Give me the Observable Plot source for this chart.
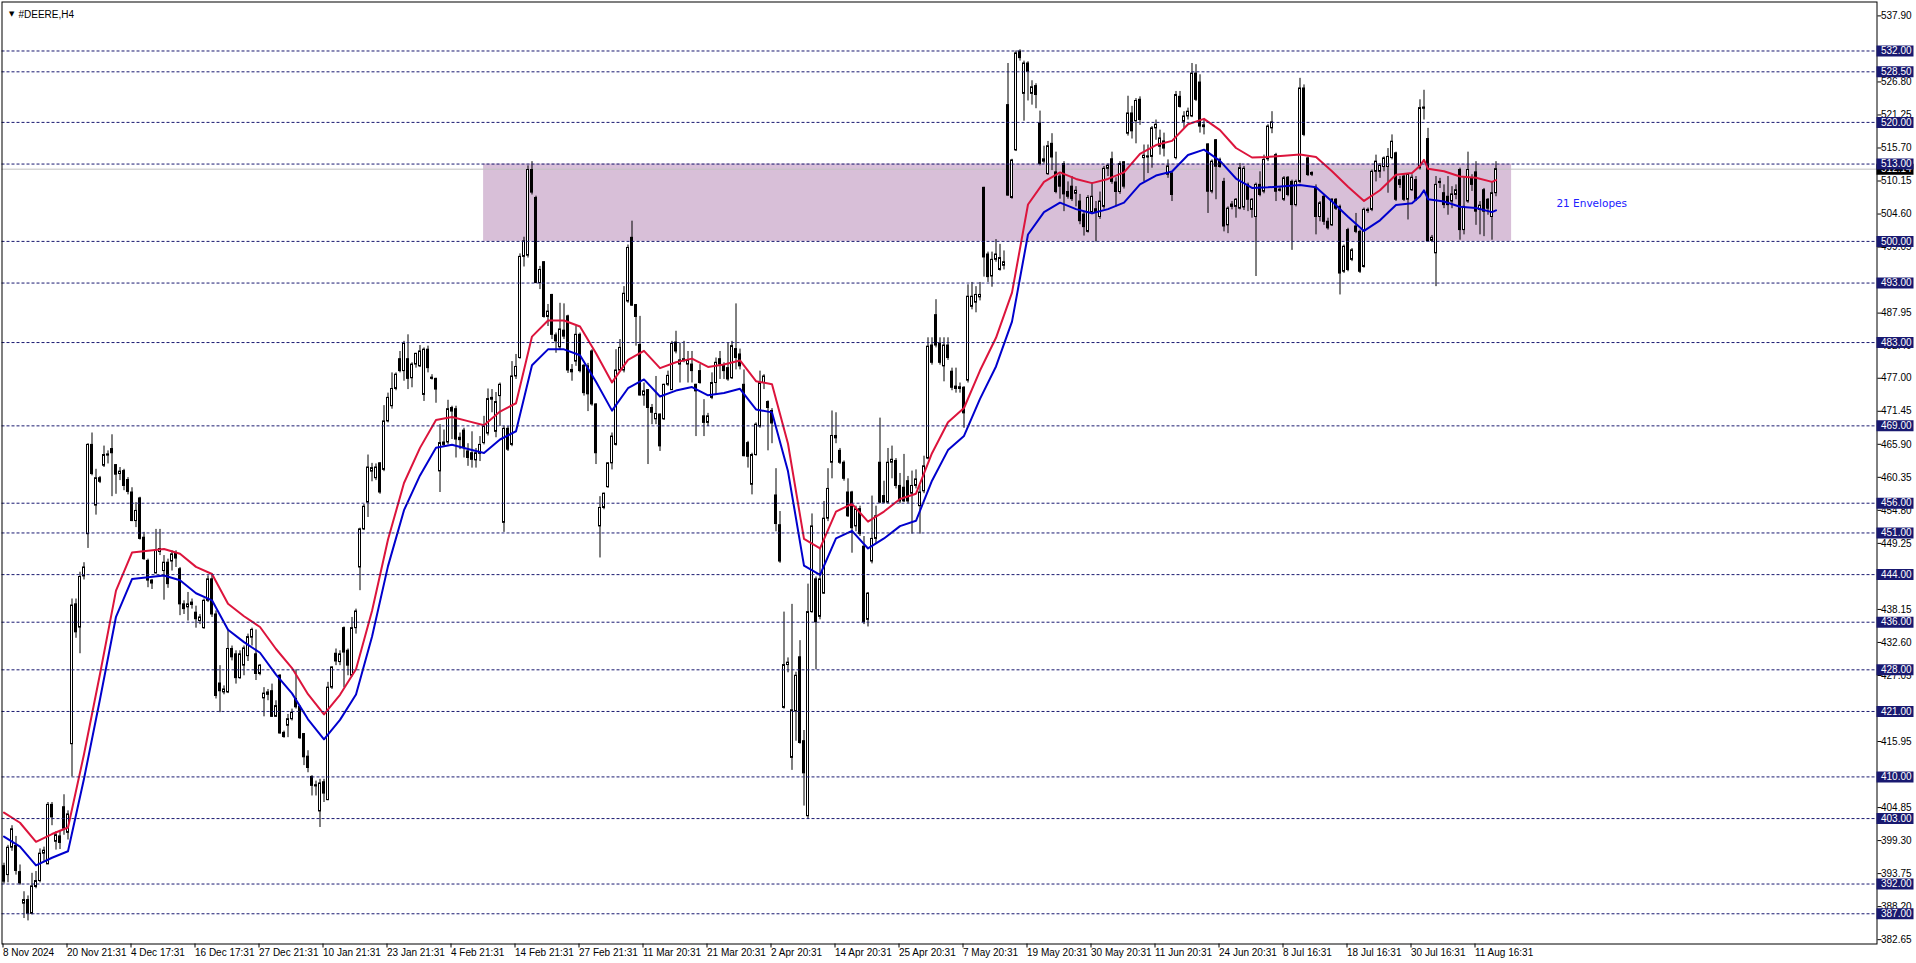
<!DOCTYPE html>
<html>
<head>
<meta charset="utf-8">
<script src="https://cdn.jsdelivr.net/npm/d3@7"></script>
<script src="https://cdn.jsdelivr.net/npm/@observablehq/plot@0.6"></script>
<style>
  html, body { margin: 0; padding: 0; background: #ffffff; overflow: hidden; }
  #chart { width: 1916px; height: 963px; }
</style>
</head>
<body>
<div id="chart"></div>
<script>
// ---------------- DATA ----------------
const symbolTitle = "#DEERE,H4";
const envelopeLabel = "21 Envelopes";

const open = [
395.0,393.5,398.1,398.4,394.0,388.7,389.3,387.0,391.5,392.5,397.1,395.3,405.3,399.1,400.0,404.9,400.6,415.5,439.0,435.1,
443.7,450.8,465.8,455.6,460.2,462.3,464.0,465.1,462.4,460.9,461.4,459.9,457.8,453.0,456.8,450.2,446.3,443.0,444.2,447.8,
444.6,446.0,446.2,447.5,444.9,439.0,438.5,438.9,437.6,436.2,435.0,439.6,443.2,437.3,425.7,424.2,424.2,431.5,430.6,426.6,
428.7,430.3,433.4,430.6,427.3,423.2,424.2,424.4,420.1,427.0,417.4,418.6,419.7,423.1,421.8,417.2,413.4,410.0,408.6,404.2,
409.1,406.1,425.0,430.7,429.3,435.0,431.2,427.0,435.0,445.2,451.6,456.1,461.3,460.2,462.7,461.6,469.75,472.3,475.2,480.2,
478.2,480.2,477.0,479.3,479.0,474.2,481.8,477.1,476.9,461.35,465.8,466.2,472.0,471.8,467.0,468.2,464.7,464.4,463.2,464.3,
466.1,467.7,473.7,468.0,474.0,452.7,468.5,465.8,477.3,480.4,497.4,497.6,512.0,507.3,493.0,496.5,487.3,491.0,484.2,482.2,
485.0,487.4,478.4,479.8,484.3,479.1,479.0,481.5,472.6,452.1,455.2,458.7,462.7,465.8,478.3,478.3,489.9,500.6,489.3,482.6,
474.1,475.0,472.0,470.1,470.9,470.1,475.9,475.0,483.0,479.3,480.0,479.3,479.3,475.9,478.2,470.6,469.5,473.7,476.2,480.2,
479.1,478.7,477.0,481.9,481.0,475.9,466.1,459.1,464.1,468.9,476.2,473.0,471.5,457.3,452.3,421.6,428.8,413.2,421.0,430.1,
416.0,403.4,437.7,443.2,436.9,440.8,453.4,462.8,467.3,464.8,462.8,457.8,457.8,452.1,455.0,448.7,436.4,446.2,450.0,462.8,
457.2,456.1,462.8,463.1,458.9,458.6,459.7,457.6,458.9,455.5,458.0,463.5,482.5,487.6,482.8,479.0,482.5,478.1,475.6,475.2,
475.4,476.6,489.0,489.7,490.6,509.0,497.8,494.1,496.9,495.2,495.9,522.9,507.3,515.3,531.9,524.8,529.9,524.8,526.1,519.8,
513.4,511.3,516.4,511.6,510.9,513.0,508.3,509.2,508.0,506.7,504.5,501.6,504.9,505.4,504.1,505.8,512.2,513.8,509.9,508.3,
513.3,518.1,521.5,520.2,523.8,514.0,514.1,514.2,519.0,515.9,516.8,511.2,511.4,514.0,524.3,520.1,521.0,521.0,528.2,526.7,
519.5,516.3,508.35,517.0,513.7,510.0,502.7,506.2,505.8,505.5,505.7,509.5,505.3,504.1,509.5,508.35,513.8,519.0,514.5,508.5,
507.0,510.7,510.0,506.1,510.0,525.7,513.95,511.5,508.9,504.1,507.5,503.3,502.7,507.0,505.8,494.9,501.9,496.9,502.5,501.6,
495.7,505.1,505.3,511.7,511.7,512.5,512.5,514.0,514.8,510.3,510.9,507.0,508.6,510.3,512.3,522.5,517.2,500.1,498.0,509.8,
508.1,507.5,506.7,507.8,512.0,501.9,506.7,510.6,511.6,505.3,508.6,507.0,504.1,508.1
];
const high = [
395.5,398.5,401.8,400.0,395.2,390.7,390.0,393.8,394.1,397.9,398.2,405.7,405.7,400.8,401.0,407.0,404.3,439.9,439.9,444.4,
446.0,466.0,467.8,461.7,460.5,465.6,464.8,467.5,462.5,462.0,461.7,460.3,458.6,456.1,457.0,451.1,446.6,443.2,451.6,451.6,
447.2,446.6,448.0,448.0,445.2,439.6,441.0,439.9,438.7,437.3,439.9,443.8,444.1,437.9,428.7,425.3,434.8,432.0,431.2,431.2,
432.0,434.0,435.0,434.7,428.9,425.0,424.7,425.6,422.8,427.2,417.7,420.5,421.4,428.0,421.8,417.3,414.4,410.2,409.3,409.6,
409.6,425.9,428.5,431.5,431.2,435.2,431.5,436.8,438.2,451.8,455.8,464.1,462.7,462.6,462.8,472.4,474.5,477.9,477.9,481.5,
483.2,484.3,479.6,481.2,482.5,482.1,482.4,477.6,477.0,469.2,468.3,473.3,472.3,472.3,467.8,468.6,466.0,468.0,465.2,467.2,
470.6,475.2,475.1,474.6,476.2,469.0,468.9,479.8,481.0,497.9,500.7,512.7,513.4,507.6,495.8,496.6,489.4,491.1,484.6,489.6,
489.5,487.6,479.3,485.7,484.6,479.3,479.5,481.8,472.7,457.1,457.7,462.8,467.8,481.8,483.5,492.4,499.4,503.4,489.4,487.4,
476.2,475.1,472.6,477.3,471.0,476.0,478.2,483.2,484.9,482.9,483.2,481.5,481.5,476.0,479.3,473.4,471.1,477.9,480.4,481.5,
479.6,482.9,483.2,489.5,481.9,478.4,466.4,464.4,469.5,478.2,477.6,473.2,471.9,461.8,454.6,437.7,430.0,439.0,427.6,432.9,
417.8,442.4,454.2,443.6,448.3,456.3,461.8,471.5,471.2,465.2,463.1,460.1,458.0,455.5,455.5,450.4,441.0,457.2,455.5,470.3,
459.7,465.2,465.6,463.5,461.0,464.2,460.5,461.4,461.6,458.9,463.9,483.8,483.8,490.2,483.8,483.8,483.8,478.7,478.7,476.2,
475.6,492.7,493.1,492.4,493.1,509.1,498.2,498.2,500.3,499.5,498.4,529.9,513.8,532.0,532.2,530.3,530.2,527.0,526.5,521.9,
516.0,516.8,518.1,515.0,511.3,513.4,510.0,510.9,509.2,507.9,505.0,507.7,509.9,506.7,508.3,512.6,513.0,515.0,510.7,513.4,
513.4,524.4,522.7,524.0,524.3,516.2,516.2,519.3,520.4,518.7,518.2,513.7,511.7,525.2,525.2,521.8,522.4,529.9,529.7,528.0,
520.4,516.4,513.7,517.1,514.0,510.6,505.8,506.7,507.2,513.1,512.6,509.8,507.2,509.8,511.7,514.5,519.6,521.8,514.8,509.2,
510.9,510.9,510.3,510.3,527.4,526.3,514.2,511.7,509.5,506.7,507.8,503.9,507.2,507.2,506.1,499.4,502.2,498.8,504.7,501.9,
505.6,505.6,512.0,514.5,513.1,514.2,515.6,517.9,515.0,510.9,511.4,511.4,511.2,510.9,523.8,525.4,519.0,501.0,510.9,510.6,
509.5,510.9,509.2,509.5,512.3,510.9,515.0,511.2,513.4,506.7,508.9,507.2,510.0,513.4
];
const low = [
392.0,392.2,397.5,393.5,391.8,386.2,385.8,386.8,391.2,392.2,395.8,395.3,401.8,397.7,397.8,400.2,399.4,410.0,433.3,430.7,
443.1,448.4,460.6,454.0,459.3,462.0,462.6,457.1,457.5,459.8,458.1,457.4,452.9,451.9,449.8,446.4,441.8,441.5,444.1,447.2,
439.7,441.7,444.6,445.2,437.1,437.3,436.2,438.2,435.0,435.6,434.8,439.3,436.8,423.1,420.8,423.8,424.0,429.5,425.6,426.4,
427.0,429.4,432.0,426.2,427.0,420.1,422.8,420.0,420.0,417.2,416.5,416.6,419.4,421.4,416.3,411.9,410.7,406.8,406.8,401.5,
405.7,406.0,424.7,428.7,428.7,425.0,427.0,426.8,434.0,441.3,451.4,453.6,459.6,459.8,457.5,461.3,469.5,471.8,474.9,477.9,
476.5,475.1,475.4,478.7,478.8,473.1,477.9,476.7,472.8,457.8,465.5,465.8,466.7,463.6,465.0,463.6,462.2,461.9,461.9,463.0,
465.8,467.3,471.2,467.0,468.9,451.1,464.7,465.5,476.8,480.2,495.7,497.2,507.8,492.9,491.9,487.1,485.7,483.5,481.2,481.8,
483.5,477.8,476.5,479.0,477.9,474.0,471.4,472.3,462.5,446.8,454.9,458.5,461.6,465.6,478.1,477.9,489.6,489.1,482.4,474.0,
472.3,462.5,469.2,469.2,464.7,469.9,475.6,475.0,481.1,476.2,479.6,476.2,476.2,467.2,476.0,467.2,468.9,473.4,474.2,476.8,
476.8,476.5,476.8,478.4,478.4,463.8,461.9,457.4,463.9,468.6,475.1,464.8,466.0,451.2,445.9,421.4,427.5,411.1,416.0,415.5,
405.1,403.0,437.5,428.0,436.4,440.7,452.9,460.1,466.0,462.5,459.7,453.6,447.6,451.2,450.4,435.6,435.2,445.8,449.1,455.9,
455.9,455.9,460.1,458.4,455.9,456.1,455.9,450.8,458.4,450.8,457.6,463.3,479.2,482.1,479.2,476.4,480.0,474.9,474.5,474.5,
468.6,476.2,488.5,488.0,490.0,494.0,493.1,492.3,496.5,495.0,495.2,507.6,507.1,515.1,530.3,520.2,523.6,522.9,522.3,512.7,
513.0,511.1,511.9,508.0,507.1,505.0,507.1,506.7,505.8,502.8,500.9,501.4,504.5,499.9,503.7,505.4,510.9,509.6,505.8,507.9,
508.8,517.7,517.2,516.4,519.5,510.0,511.4,512.3,517.0,514.5,514.2,510.6,506.7,513.7,522.4,519.0,520.4,520.8,523.5,518.2,
517.9,504.7,508.0,507.0,512.3,501.6,501.3,505.3,503.9,505.3,505.2,505.0,503.9,494.1,507.5,508.0,513.4,518.1,506.7,508.3,
506.7,507.5,498.5,505.8,509.7,517.6,510.9,510.9,501.1,503.3,502.7,501.9,502.5,505.2,491.0,494.6,494.9,496.6,501.3,494.6,
495.5,504.7,505.0,510.0,510.6,511.7,508.1,513.7,506.7,508.9,506.7,503.6,508.4,506.7,512.0,520.4,499.9,499.8,492.4,508.9,
505.5,504.4,505.5,507.0,500.2,501.1,506.4,508.4,502.7,501.1,500.8,504.4,500.2,507.5
];
const close = [
392.4,398.1,401.2,394.2,392.1,389.3,387.0,391.6,392.5,397.1,397.6,405.3,403.2,400.2,398.9,401.3,403.7,438.8,434.3,443.6,
445.2,465.8,460.9,460.2,459.6,464.1,464.2,464.4,460.8,461.3,458.9,457.9,453.0,454.7,450.0,446.6,443.0,442.5,448.0,448.3,
446.0,442.4,447.4,446.7,439.0,438.2,439.0,439.3,436.5,436.8,439.6,443.2,437.3,423.6,424.4,424.7,431.5,430.1,426.6,430.6,
431.6,433.5,434.7,427.3,428.7,424.0,423.8,420.1,421.9,417.3,416.7,419.7,420.8,421.7,416.5,413.3,411.5,408.5,408.4,408.9,
407.2,425.0,428.4,429.4,430.6,430.9,428.7,435.0,437.8,451.6,455.4,462.0,461.9,462.0,457.8,469.75,473.7,475.2,477.6,478.2,
482.8,476.9,479.3,481.1,481.5,481.8,478.7,476.9,475.1,466.1,466.2,471.8,471.4,466.7,466.6,465.3,463.6,463.3,464.4,465.8,
468.9,473.5,473.4,473.0,475.9,468.5,465.0,477.3,478.9,497.4,500.0,512.0,508.2,493.0,495.2,487.3,488.2,484.3,483.2,485.2,
484.0,478.3,478.0,484.3,478.2,474.5,474.3,472.6,464.4,455.2,457.6,462.7,467.2,478.3,482.1,491.2,498.9,489.2,487.3,474.1,
474.8,472.0,471.2,471.0,465.55,475.9,477.4,482.8,481.5,480.0,480.2,480.0,478.2,474.8,476.2,469.5,470.6,476.2,479.6,479.3,
478.2,476.8,482.4,480.4,479.0,463.9,463.8,464.1,469.2,476.2,477.3,472.0,469.4,452.5,446.2,428.8,429.2,421.2,427.0,415.7,
410.6,437.7,452.1,436.0,443.2,453.4,458.4,467.3,466.9,462.8,460.1,453.8,451.8,455.0,450.8,436.0,440.8,450.0,453.8,456.1,
456.1,462.8,463.3,458.9,456.3,456.3,456.3,458.9,460.0,457.8,462.2,482.3,479.6,482.5,479.6,482.5,480.4,475.4,475.2,475.5,
471.1,490.7,490.7,491.0,491.0,497.3,494.0,496.9,497.8,497.2,496.5,507.7,513.6,531.6,530.8,529.9,528.5,525.9,524.6,513.0,
513.8,516.0,514.1,508.3,509.2,507.9,507.5,507.1,508.5,503.4,502.4,507.3,507.5,504.8,506.7,512.2,512.7,510.0,508.3,513.0,
509.2,521.5,518.5,523.6,520.4,514.4,514.3,519.0,519.6,517.3,515.6,512.6,507.8,524.6,522.6,521.0,521.8,528.2,523.8,519.3,
519.2,508.35,513.4,512.55,512.5,502.5,505.5,505.8,507.0,512.3,512.2,507.0,507.0,509.5,507.8,513.7,519.3,520.0,508.35,508.7,
510.6,507.8,506.1,510.0,525.7,517.9,511.15,511.2,504.1,506.4,503.3,502.2,507.0,505.5,494.6,499.1,495.2,498.5,501.6,494.9,
505.3,505.3,511.7,513.4,512.7,513.95,514.2,516.75,507.0,509.5,507.0,511.3,510.7,507.0,522.4,522.3,500.0,500.6,509.5,510.0,
506.1,506.1,507.9,508.6,501.9,505.8,512.0,509.5,505.0,506.0,505.0,505.5,508.1,512.14
];

// Envelopes(21): upper (red) band read at these bars; deviation 0.5 %
const envBar = [0,4,8,12,16,20,24,28,32,36,40,44,48,52,56,60,64,68,72,76,80,84,88,92,96,100,104,108,112,116,120,124,128,132,136,140,144,148,152,156,160,164,168,172,176,180,184,188,192,196,200,204,208,212,216,220,224,228,232,236,240,244,248,252,256,260,264,268,272,276,280,284,288,292,296,300,304,308,312,316,320,324,328,332,336,340,344,348,352,354,355,356,360,364,368,372,373];
const envUpper = [404.0,402.3,399.1,400.4,401.5,413.8,427.3,441.3,447.7,448.0,448.3,447.5,445.3,444.1,439.1,437.0,435.2,431.5,428.3,423.9,420.5,423.8,428.1,437.9,449.9,459.4,465.3,470.0,470.5,469.8,469.1,471.4,472.8,484.0,486.7,486.7,485.7,481.2,476.3,480.1,481.6,478.7,479.7,480.3,478.9,479.3,480.0,476.5,476.0,466.0,450.0,448.4,454.6,455.9,452.9,454.6,456.7,457.6,464.4,469.6,472.0,478.3,483.8,491.4,506.2,510.0,511.6,510.5,509.8,510.5,511.6,514.7,516.2,516.9,519.7,520.6,518.7,515.7,514.1,514.2,514.4,514.6,514.2,511.8,509.2,506.8,508.6,511.2,511.5,512.7,513.7,512.2,511.8,510.9,510.7,510.0,510.3];
const envDeviation = 0.005;

// horizontal price levels (dashed lines) and the current bid
const levels = [532, 528.5, 520, 513, 500, 493, 483, 469, 456, 451, 444, 436, 428, 421, 410, 403, 392, 387];
const bid = 512.14;

// zone rectangle (bar index / price)
const zone = {x1: 119.9, x2: 376.9, y1: 500, y2: 513};
const envLabelPos = {x: 388.1, y: 506.4};

// axis tick labels
const yTickLabels = ["537.90","526.80","521.25","515.70","510.15","504.60","499.05","487.95","482.40","477.00","471.45","465.90","460.35","454.80","449.25","443.70","438.15","432.60","427.05","415.95","404.85","399.30","393.75","388.20","382.65"];
const xTickBars = [0,16,32,48,64,80,96,112,128,144,160,176,192,208,224,240,256,272,288,304,320,336,352,368];
const xTickLabels = ["8 Nov 2024","20 Nov 21:31","4 Dec 17:31","16 Dec 17:31","27 Dec 21:31","10 Jan 21:31","23 Jan 21:31","4 Feb 21:31","14 Feb 21:31","27 Feb 21:31","11 Mar 20:31","21 Mar 20:31","2 Apr 20:31","14 Apr 20:31","25 Apr 20:31","7 May 20:31","19 May 20:31","30 May 20:31","11 Jun 20:31","24 Jun 20:31","8 Jul 16:31","18 Jul 16:31","30 Jul 16:31","11 Aug 16:31"];

// ---------------- LAYOUT / STYLE ----------------
const W = 1916, H = 963;
const mL = 1.5, mT = 1.5, mR = 39.5, mB = 19.5;
const xDomain = [-0.5, 468.25];          // bar index
const yDomain = [381.92, 540.235];       // price
const pxPerBar = (W - mL - mR) / (xDomain[1] - xDomain[0]);
const boxW = 37 / pxPerBar;              // label box width in bar units
const navy = "#191970";
const fontAxis = "Liberation Sans, Arial, sans-serif";

const bars = d3.range(close.length);
const yTickVals = yTickLabels.map(Number);
const envMid = envUpper.map(v => v / (1 + envDeviation));
const envLower = envMid.map(v => v * (1 - envDeviation));

const chart = Plot.plot({
  width: W, height: H,
  marginLeft: mL, marginTop: mT, marginRight: mR, marginBottom: mB,
  x: {type: "linear", domain: xDomain},
  y: {type: "linear", domain: yDomain},
  style: {fontFamily: fontAxis, fontSize: "10px", background: "#ffffff", color: "#000000", overflow: "visible"},
  marks: [
    Plot.rect([zone], {x1: "x1", x2: "x2", y1: "y1", y2: "y2", fill: "#d8bfd8"}),
    Plot.ruleY([bid], {stroke: "#c0c0c0", strokeWidth: 1}),
    // candle wicks
    Plot.ruleX(bars, {x: i => i, y1: i => low[i], y2: i => high[i], stroke: "#000000", strokeWidth: 1}),
    // bullish bodies
    Plot.rect(bars, {filter: i => close[i] >= open[i], x1: i => i - 0.25, x2: i => i + 0.25,
      y1: i => open[i], y2: i => close[i], fill: "#ffffff", stroke: "#000000", strokeWidth: 1}),
    // bearish bodies
    Plot.rect(bars, {filter: i => close[i] < open[i], x1: i => i - 0.25, x2: i => i + 0.25,
      y1: i => open[i], y2: i => close[i], fill: "#000000", stroke: "#000000", strokeWidth: 1}),
    // envelopes
    Plot.line(envBar, {x: envBar, y: envUpper, stroke: "#dc143c", strokeWidth: 2}),
    Plot.line(envBar, {x: envBar, y: envLower, stroke: "#0000cd", strokeWidth: 2}),
    // horizontal dashed levels
    Plot.ruleY(levels, {stroke: navy, strokeWidth: 1, strokeDasharray: "3,2"}),
    Plot.frame({stroke: "#000000", strokeWidth: 1}),
    // axes
    Plot.axisY({anchor: "right", ticks: yTickVals, tickFormat: d => d.toFixed(2), tickSize: 4, tickPadding: 0,
      label: null, fontSize: 10, fontFamily: fontAxis, fill: "#000000", stroke: "#000000"}),
    Plot.axisX({anchor: "bottom", ticks: xTickBars, tickFormat: d => xTickLabels[xTickBars.indexOf(d)],
      tickSize: 4, tickPadding: 1, textAnchor: "start", dx: -1, label: null, fontSize: 10, fontFamily: fontAxis,
      fill: "#000000", stroke: "#000000"}),
    // bid label box
    Plot.ruleY([bid], {x1: xDomain[1], x2: xDomain[1] + boxW, stroke: "#000000", strokeWidth: 11}),
    Plot.text([bid], {y: d => d, frameAnchor: "right", dx: 4, textAnchor: "start", text: d => d.toFixed(2),
      fill: "#ffffff", fontSize: 10, fontFamily: fontAxis}),
    // level label boxes
    Plot.ruleY(levels, {x1: xDomain[1], x2: xDomain[1] + boxW, stroke: navy, strokeWidth: 11}),
    Plot.text(levels, {y: d => d, frameAnchor: "right", dx: 4, textAnchor: "start", text: d => d.toFixed(2),
      fill: "#ffffff", fontSize: 10, fontFamily: fontAxis}),
    // annotations
    Plot.text([envelopeLabel], {x: envLabelPos.x, y: envLabelPos.y, text: d => d, textAnchor: "start",
      fill: "#2020ff", fontSize: 10.5, fontFamily: "DejaVu Sans, sans-serif"}),
    Plot.text(["\u25BC"], {frameAnchor: "top-left", dx: 7, dy: 9, text: d => d, fontSize: 7,
      fill: "#000000", fontFamily: "DejaVu Sans, sans-serif"}),
    Plot.text([symbolTitle], {frameAnchor: "top-left", dx: 16.5, dy: 8.5, text: d => d, textAnchor: "start",
      fontSize: 10, fill: "#000000", fontFamily: fontAxis})
  ]
});
document.getElementById("chart").appendChild(chart);
</script>
</body>
</html>
